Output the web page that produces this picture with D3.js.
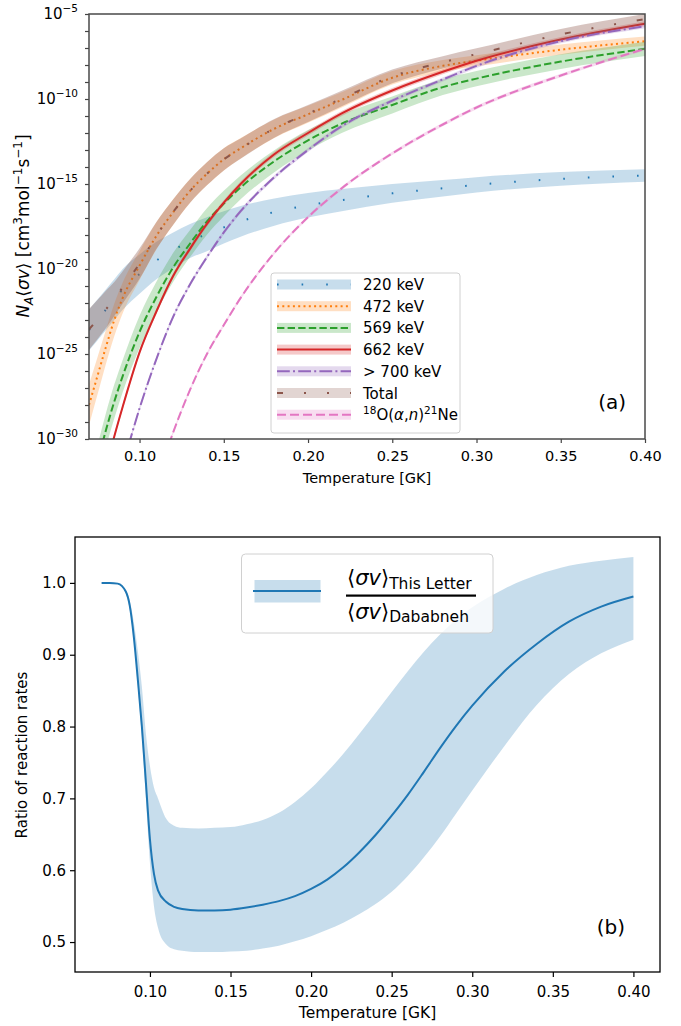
<html>
<head>
<style>
  body { margin: 0; background: #fff; }
  text { font-family: 'DejaVu Sans', sans-serif; fill: #000; }
</style>
</head>
<body>
  <div id = 'chart'></div>
  <script src = 'https://cdn.jsdelivr.net/npm/d3@7/dist/d3.min.js'></script>
  <script>
    // temperatures (GK) used for every curve in panel (a)
    var temps = [0.07,0.075,0.08,0.085,0.09,0.10,0.11,0.12,0.13,0.14,0.15,0.16,0.18,0.20,0.22,0.25,0.28,0.30,0.35,0.40];

    // log10 of N_A<sigma v> (null = below the plot)
    var rate220 = [-23.6,-23.0,-22.4,-21.8,-21.2,-20.3,-19.5,-18.9,-18.35,-17.95,-17.55,-17.2,-16.65,-16.25,-15.95,-15.55,-15.25,-15.05,-14.7,-14.5];
    var rate472 = [-28.0,-26.3,-24.6,-23.0,-21.7,-19.8,-18.05,-16.65,-15.4,-14.4,-13.55,-12.9,-11.75,-10.9,-10.05,-8.75,-8.05,-7.75,-7.1,-6.6];
    var rate569 = [null,-31.4,-29.5,-27.8,-26.3,-23.7,-21.65,-19.9,-18.5,-17.2,-16.15,-15.2,-13.66,-12.43,-11.45,-10.35,-9.3,-8.8,-7.8,-7.05];
    var rate662 = [null,null,-31.8,-29.85,-28.1,-24.9,-22.5,-20.4,-18.8,-17.35,-16.1,-15.0,-13.25,-12.0,-10.85,-9.5,-8.4,-7.75,-6.5,-5.57];
    var rate700 = [null,null,null,null,-31.6,-28.2,-25.3,-22.8,-20.9,-19.3,-17.85,-16.6,-14.6,-13.0,-11.6,-10.1,-8.85,-8.05,-6.6,-5.72];
    var rateTotal = [-23.55,-22.98,-22.38,-21.77,-21.08,-19.68,-18.03,-16.64,-15.4,-14.4,-13.55,-12.92,-11.73,-10.86,-9.97,-8.67,-7.84,-7.36,-6.2,-5.3];
    var rateDab = [null,null,null,null,null,null,-32.5,-29.6,-27.1,-25.0,-23.3,-21.7,-19.05,-16.95,-15.25,-13.2,-11.5,-10.5,-8.62,-7.05];

    // half width of the uncertainty bands, in decades
    var band220 = [1.2,1.2,1.2,1.2,1.2,1.15,1.1,1.05,1.0,1.0,0.95,0.9,0.8,0.72,0.65,0.55,0.48,0.45,0.4,0.37];
    var band472 = [1.2,1.1,1.0,0.95,0.9,0.85,0.8,0.75,0.7,0.68,0.65,0.6,0.55,0.5,0.45,0.4,0.35,0.33,0.3,0.27];
    var band569 = [1.0,1.0,1.0,1.0,0.95,0.95,0.9,0.85,0.8,0.78,0.75,0.7,0.65,0.6,0.55,0.5,0.47,0.45,0.43,0.42];
    var band662 = [0.15,0.15,0.15,0.15,0.15,0.15,0.15,0.15,0.15,0.15,0.15,0.15,0.15,0.15,0.15,0.15,0.15,0.15,0.15,0.15];
    var band700 = [0.12,0.12,0.12,0.12,0.12,0.12,0.12,0.12,0.12,0.12,0.12,0.12,0.12,0.12,0.12,0.12,0.12,0.12,0.12,0.12];
    var bandTotal = [1.2,1.15,1.1,1.0,0.95,0.9,0.8,0.75,0.7,0.68,0.65,0.6,0.55,0.5,0.45,0.4,0.36,0.34,0.32,0.3];
    var bandDab = [0.1,0.1,0.1,0.1,0.1,0.1,0.1,0.1,0.1,0.1,0.1,0.1,0.1,0.1,0.1,0.1,0.1,0.1,0.1,0.1];

    var xTicksA = [0.10,0.15,0.20,0.25,0.30,0.35,0.40];
    var yLabelsA = [-30,-25,-20,-15,-10,-5];

    // panel (b): ratio of rates
    var tempsB = [0.07,0.075,0.08,0.085,0.0875,0.09,0.0925,0.095,0.0975,0.10,0.1025,0.105,0.11,0.115,0.12,0.13,0.14,0.15,0.16,0.17,0.18,0.19,0.20,0.21,0.22,0.23,0.24,0.25,0.26,0.27,0.28,0.29,0.30,0.32,0.34,0.36,0.38,0.40];
    var ratio = [1.0,1.0,0.999,0.988,0.968,0.925,0.865,0.8,0.722,0.643,0.595,0.572,0.556,0.549,0.546,0.544,0.544,0.545,0.548,0.552,0.557,0.564,0.574,0.587,0.604,0.625,0.649,0.676,0.705,0.737,0.770,0.801,0.829,0.877,0.915,0.946,0.967,0.981];
    var ratioHi = [1.0,1.0,0.999,0.99,0.975,0.945,0.905,0.855,0.79,0.745,0.715,0.7,0.672,0.662,0.659,0.658,0.659,0.66,0.664,0.67,0.680,0.695,0.714,0.737,0.762,0.790,0.819,0.848,0.877,0.904,0.928,0.949,0.966,0.992,1.011,1.024,1.031,1.036];
    var ratioLo = [1.0,1.0,0.999,0.986,0.963,0.92,0.855,0.785,0.70,0.61,0.55,0.52,0.497,0.49,0.488,0.486,0.486,0.487,0.488,0.491,0.495,0.501,0.508,0.517,0.527,0.539,0.553,0.570,0.592,0.618,0.647,0.679,0.711,0.773,0.830,0.873,0.902,0.921];
    var yTicksB = [0.5,0.6,0.7,0.8,0.9,1.0];

    var svg = d3.select('#chart').append('svg')
                .attr('width',681)
                .attr('height',1026)
                .style('display','block');

    // ---------------- panel (a) ----------------
    var a = {left:89, right:645, top:14, bottom:439};
    var xA = d3.scaleLinear().domain([0.07,0.40]).range([a.left,a.right]);
    var yA = d3.scaleLog().domain([1e-30,1e-5]).range([a.bottom,a.top]);

    var series = [
      {label:'220 keV', vals:rate220, band:band220, color:'#1f77b4', dash:'1.6,23', op:0.25},
      {label:'472 keV', vals:rate472, band:band472, color:'#ff7f0e', dash:'2,3.3', op:0.25},
      {label:'569 keV', vals:rate569, band:band569, color:'#2ca02c', dash:'7.4,3.2', op:0.25},
      {label:'662 keV', vals:rate662, band:band662, color:'#d62728', dash:null, op:0.25},
      {label:'> 700 keV', vals:rate700, band:band700, color:'#9467bd', dash:'12.8,3.2,2,3.2', op:0.25},
      {label:'Total', vals:rateTotal, band:bandTotal, color:'#8c564b', dash:'6,21,2,21,2,21', op:0.35},
      {label:'dab', vals:rateDab, band:bandDab, color:'#e377c2', dash:'9,4', op:0.25}
    ];

    svg.append('clipPath').attr('id','clipA')
      .append('rect').attr('x',a.left).attr('y',a.top)
      .attr('width',a.right-a.left).attr('height',a.bottom-a.top);

    var plotA = svg.append('g').attr('clip-path','url(#clipA)');

    series.forEach(function(s){
      var pts = temps.map(function(t,i){
        return {t:t, v:s.vals[i], w:s.band[i]};
      }).filter(function(d){ return d.v != null; });

      var area = d3.area()
        .x(function(d){ return xA(d.t); })
        .y0(function(d){ return yA(Math.pow(10,d.v - d.w)); })
        .y1(function(d){ return yA(Math.pow(10,d.v + d.w)); })
        .curve(d3.curveMonotoneX);
      var line = d3.line()
        .x(function(d){ return xA(d.t); })
        .y(function(d){ return yA(Math.pow(10,d.v)); })
        .curve(d3.curveMonotoneX);

      plotA.append('path').datum(pts)
        .attr('d',area)
        .attr('fill',s.color)
        .attr('fill-opacity',s.op);
      plotA.append('path').datum(pts)
        .attr('d',line)
        .attr('fill','none')
        .attr('stroke',s.color)
        .attr('stroke-width',2)
        .attr('stroke-dasharray',s.dash);
    });

    // axes (a)
    var gxA = svg.append('g').attr('transform','translate(0,'+a.bottom+')')
      .call(d3.axisBottom(xA).tickValues(xTicksA).tickFormat(d3.format('.2f')).tickSize(4));
    gxA.selectAll('text').attr('font-size','14.5px').attr('dy','1.05em')
      .style('font-family','DejaVu Sans');
    var decades = d3.range(-30,-4,1);
    var gyA = svg.append('g').attr('transform','translate('+a.left+',0)')
      .call(d3.axisLeft(yA).tickValues(decades.map(function(e){ return Math.pow(10,e); }))
        .tickFormat('').tickSize(4));
    [gxA,gyA].forEach(function(g){
      g.select('.domain').remove();
      g.selectAll('line').attr('stroke','#444').attr('stroke-width',1.2);
    });

    yLabelsA.forEach(function(e){
      var t = svg.append('text')
        .attr('x',78).attr('y',yA(Math.pow(10,e)) + 5)
        .attr('text-anchor','end')
        .attr('font-size','15px');
      t.append('tspan').text('10');
      t.append('tspan').attr('dy',-7).attr('font-size','10.5px').text('\u2212'+(-e));
    });

    svg.append('rect')
      .attr('x',a.left).attr('y',a.top)
      .attr('width',a.right-a.left).attr('height',a.bottom-a.top)
      .attr('fill','none').attr('stroke','#4a4a4a').attr('stroke-width',1.5);

    svg.append('text').attr('x',(a.left+a.right)/2).attr('y',483)
      .attr('text-anchor','middle').attr('font-size','14.5px')
      .text('Temperature [GK]');

    var yl = svg.append('text')
      .attr('transform','translate(29,226) rotate(-90)')
      .attr('text-anchor','middle').attr('font-size','17px');
    yl.append('tspan').attr('font-style','italic').text('N');
    yl.append('tspan').attr('dy',4).attr('font-size','12px').attr('font-style','italic').text('A');
    yl.append('tspan').attr('dy',-4).text('\u27e8');
    yl.append('tspan').attr('font-style','italic').text('\u03c3v');
    yl.append('tspan').text('\u27e9 [cm');
    yl.append('tspan').attr('dy',-7).attr('font-size','12px').text('3');
    yl.append('tspan').attr('dy',7).text('mol');
    yl.append('tspan').attr('dy',-7).attr('font-size','12px').text('\u22121');
    yl.append('tspan').attr('dy',7).text('s');
    yl.append('tspan').attr('dy',-7).attr('font-size','12px').text('\u22121');
    yl.append('tspan').attr('dy',7).text(']');

    svg.append('text').attr('x',626).attr('y',409)
      .attr('text-anchor','end').attr('font-size','20px').text('(a)');

    // legend (a)
    var lg = svg.append('g');
    lg.append('rect').attr('x',271).attr('y',273).attr('width',189).attr('height',160)
      .attr('rx',3).attr('fill','#fff').attr('fill-opacity',0.8)
      .attr('stroke','#d0d0d0').attr('stroke-width',1);
    series.forEach(function(s,i){
      var cy = 284.5 + i*21.7;
      lg.append('rect').attr('x',277).attr('y',cy-5).attr('width',74).attr('height',10)
        .attr('fill',s.color).attr('fill-opacity',0.25);
      lg.append('line').attr('x1',277).attr('x2',351).attr('y1',cy).attr('y2',cy)
        .attr('stroke',s.color).attr('stroke-width',2).attr('stroke-dasharray',s.dash);
      var t = lg.append('text').attr('x',363).attr('y',cy+5.5).attr('font-size','15px');
      if (s.label === 'dab') {
        t.append('tspan').attr('dy',-6).attr('font-size','10.5px').text('18');
        t.append('tspan').attr('dy',6).text('O(');
        t.append('tspan').attr('font-style','italic').text('\u03b1');
        t.append('tspan').text(',');
        t.append('tspan').attr('font-style','italic').text('n');
        t.append('tspan').text(')');
        t.append('tspan').attr('dy',-6).attr('font-size','10.5px').text('21');
        t.append('tspan').attr('dy',6).text('Ne');
      } else {
        t.text(s.label);
      }
    });

    // ---------------- panel (b) ----------------
    var b = {left:75, right:660, top:537, bottom:972};
    var xB = d3.scaleLinear().domain([0.0535,0.4165]).range([b.left,b.right]);
    var yB = d3.scaleLinear().domain([0.4583,1.0639]).range([b.bottom,b.top]);

    var ptsB = tempsB.map(function(t,i){
      return {t:t, v:ratio[i], lo:ratioLo[i], hi:ratioHi[i]};
    });
    svg.append('path').datum(ptsB)
      .attr('d',d3.area()
        .x(function(d){ return xB(d.t); })
        .y0(function(d){ return yB(d.lo); })
        .y1(function(d){ return yB(d.hi); })
        .curve(d3.curveMonotoneX))
      .attr('fill','#1f77b4').attr('fill-opacity',0.25);
    svg.append('path').datum(ptsB)
      .attr('d',d3.line()
        .x(function(d){ return xB(d.t); })
        .y(function(d){ return yB(d.v); })
        .curve(d3.curveMonotoneX))
      .attr('fill','none').attr('stroke','#1f77b4').attr('stroke-width',2);

    var gxB = svg.append('g').attr('transform','translate(0,'+b.bottom+')')
      .call(d3.axisBottom(xB).tickValues(xTicksA).tickFormat(d3.format('.2f')).tickSize(5));
    var gyB = svg.append('g').attr('transform','translate('+b.left+',0)')
      .call(d3.axisLeft(yB).tickValues(yTicksB).tickFormat(d3.format('.1f')).tickSize(5));
    [gxB,gyB].forEach(function(g){
      g.select('.domain').remove();
      g.selectAll('line').attr('stroke','#000').attr('stroke-width',1.2);
      g.selectAll('text').attr('font-size','15px').style('font-family','DejaVu Sans');
    });
    gxB.selectAll('text').attr('dy','1.1em');
    gyB.selectAll('text').attr('x',-9);

    svg.append('rect')
      .attr('x',b.left).attr('y',b.top)
      .attr('width',b.right-b.left).attr('height',b.bottom-b.top)
      .attr('fill','none').attr('stroke','#000').attr('stroke-width',1.3);

    svg.append('text').attr('x',(b.left+b.right)/2).attr('y',1018)
      .attr('text-anchor','middle').attr('font-size','15.5px')
      .text('Temperature [GK]');
    svg.append('text').attr('transform','translate(27,755) rotate(-90)')
      .attr('text-anchor','middle').attr('font-size','15px')
      .text('Ratio of reaction rates');
    svg.append('text').attr('x',625).attr('y',934)
      .attr('text-anchor','end').attr('font-size','20px').text('(b)');

    // legend (b)
    var lb = svg.append('g');
    lb.append('rect').attr('x',241.5).attr('y',554).attr('width',251.5).attr('height',79)
      .attr('rx',4).attr('fill','#fff').attr('fill-opacity',0.8)
      .attr('stroke','#d0d0d0').attr('stroke-width',1);
    lb.append('rect').attr('x',254.5).attr('y',580).attr('width',66).attr('height',22.5)
      .attr('fill','#1f77b4').attr('fill-opacity',0.25);
    lb.append('line').attr('x1',253).attr('x2',321).attr('y1',591).attr('y2',591)
      .attr('stroke','#1f77b4').attr('stroke-width',2.2);
    var num = lb.append('text').attr('x',347).attr('y',585).attr('font-size','21px');
    num.append('tspan').text('\u27e8');
    num.append('tspan').attr('font-style','italic').text('\u03c3v');
    num.append('tspan').text('\u27e9');
    num.append('tspan').attr('dy',3.5).attr('font-size','15.5px').text('This Letter');
    lb.append('rect').attr('x',346).attr('y',594.5).attr('width',130).attr('height',2.2).attr('fill','#000');
    var den = lb.append('text').attr('x',347).attr('y',618.5).attr('font-size','21px');
    den.append('tspan').text('\u27e8');
    den.append('tspan').attr('font-style','italic').text('\u03c3v');
    den.append('tspan').text('\u27e9');
    den.append('tspan').attr('dy',3.5).attr('font-size','15.5px').text('Dababneh');
  </script>
</body>
</html>
